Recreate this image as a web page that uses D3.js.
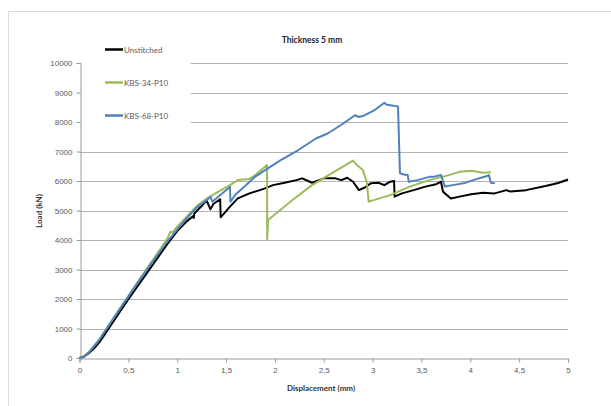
<!DOCTYPE html>
<html><head><meta charset="utf-8">
<script src="https://cdn.jsdelivr.net/npm/d3@7"></script>
<style>body{margin:0;background:#fff;}svg{display:block;font-family:Lato,"Open Sans",sans-serif;}</style>
</head><body><svg id="c" width="611" height="406"></svg>
<script>
const seriesNames = ["Unstitched", "KBS-34-P10", "KBS-68-P10"];
const seriesColors = ["#000000", "#9BBB59", "#4F81BD"];
const xTicks = [0, 0.5, 1, 1.5, 2, 2.5, 3, 3.5, 4, 4.5, 5];
const yTicks = [0,1000,2000,3000,4000,5000,6000,7000,8000,9000,10000];

const unstitched = [[0,0],[0.05,50],[0.1,180],[0.15,330],[0.2,520],[0.25,760],[0.3,1010],[0.4,1500],[0.5,1990],[0.6,2460],[0.7,2930],[0.8,3400],[0.9,3870],[1.0,4300],[1.1,4640],[1.16,4800],[1.17,4750],[1.175,4900],[1.25,5150],[1.3,5355],[1.34,5040],[1.37,5220],[1.44,5380],[1.445,4770],[1.54,5130],[1.62,5410],[1.74,5580],[1.9,5750],[1.98,5860],[2.1,5940],[2.22,6030],[2.28,6090],[2.34,6000],[2.38,5940],[2.5,6090],[2.62,6090],[2.68,6030],[2.74,6110],[2.8,5975],[2.86,5690],[2.92,5780],[2.98,5920],[3.06,5940],[3.12,5860],[3.18,5975],[3.22,6000],[3.225,5470],[3.3,5580],[3.42,5690],[3.54,5810],[3.64,5880],[3.7,5975],[3.72,5640],[3.8,5410],[3.89,5470],[4.01,5550],[4.13,5600],[4.25,5580],[4.37,5690],[4.41,5640],[4.57,5690],[4.77,5830],[4.9,5930],[5.0,6050]];
const kbs34 = [[0,0],[0.05,70],[0.1,220],[0.2,620],[0.3,1120],[0.4,1620],[0.5,2100],[0.6,2600],[0.7,3080],[0.8,3560],[0.9,4050],[0.93,4280],[0.95,4250],[1.0,4450],[1.1,4800],[1.2,5150],[1.3,5400],[1.4,5600],[1.54,5860],[1.62,6030],[1.74,6070],[1.8,6200],[1.92,6540],[1.921,4030],[1.93,4680],[2.18,5355],[2.38,5860],[2.58,6260],[2.8,6690],[2.84,6540],[2.9,6370],[2.94,5975],[2.96,5300],[3.18,5520],[3.38,5810],[3.58,6030],[3.78,6200],[3.89,6310],[4.01,6350],[4.13,6280],[4.21,6300]];
const kbs68 = [[0,0],[0.05,60],[0.1,200],[0.2,600],[0.3,1100],[0.4,1600],[0.5,2080],[0.6,2570],[0.7,3040],[0.8,3500],[0.9,3950],[1.0,4350],[1.1,4750],[1.2,5100],[1.3,5350],[1.34,5460],[1.36,5300],[1.45,5550],[1.54,5800],[1.545,5300],[1.6,5550],[1.7,5850],[1.8,6150],[1.9,6370],[2.06,6710],[2.24,7050],[2.42,7440],[2.54,7610],[2.7,7950],[2.82,8230],[2.86,8170],[2.9,8200],[3.02,8400],[3.12,8650],[3.14,8590],[3.18,8570],[3.26,8530],[3.28,6260],[3.32,6220],[3.36,6200],[3.37,5975],[3.46,6030],[3.58,6140],[3.62,6140],[3.7,6200],[3.74,5810],[3.82,5860],[3.93,5920],[4.03,6030],[4.17,6170],[4.19,6200],[4.21,5940],[4.25,5920]];
const allSeries = [unstitched, kbs34, kbs68];

const svg = d3.select("#c");
const x = d3.scaleLinear().domain([0,5]).range([79.5,568]);
const y = d3.scaleLinear().domain([0,10000]).range([358,63]);

svg.append("rect").attr("x",8.5).attr("y",11.5).attr("width",620).attr("height",420).attr("fill","none").attr("stroke","#d9d9d9");

svg.append("g").selectAll("line").data(yTicks.filter(d=>d>0)).join("line")
  .attr("x1",x(0)).attr("x2",x(5)).attr("y1",d=>Math.round(y(d))+0.5).attr("y2",d=>Math.round(y(d))+0.5)
  .attr("stroke","#b3b3b3").attr("stroke-width",1);

svg.append("rect").attr("x",x(0)+1).attr("y",40).attr("width",110).attr("height",88).attr("fill","#fff");

const fmtX = d => String(d).replace(".", ",");
const xAxis = svg.append("g").attr("transform",`translate(0,${Math.round(y(0))+0.5})`)
  .call(d3.axisBottom(x).tickValues(xTicks).tickFormat(fmtX).tickSize(4).tickPadding(5));
const yAxis = svg.append("g").attr("transform",`translate(${Math.round(x(0))+0.5},0)`)
  .call(d3.axisLeft(y).tickValues(yTicks).tickFormat(d3.format("d")).tickSize(4).tickPadding(4));
[xAxis,yAxis].forEach(a=>{
  a.selectAll("path,line").attr("stroke","#999");
  a.selectAll("text").attr("fill","#595959").attr("font-size","8px");
});

const line = d3.line().x(d=>x(d[0])).y(d=>y(d[1]));
allSeries.forEach((s,i)=>{
  svg.append("path").datum(s).attr("d",line).attr("fill","none")
    .attr("stroke",seriesColors[i]).attr("stroke-width",2).attr("stroke-linejoin","round");
});

svg.append("text").attr("x",312).attr("y",43).attr("text-anchor","middle").attr("font-size","8.5px").attr("font-weight","bold").attr("fill","#222").text("Thickness 5 mm");
svg.append("text").attr("x",321).attr("y",391).attr("text-anchor","middle").attr("font-size","8px").attr("font-weight","bold").attr("fill","#333").text("Displacement (mm)");
svg.append("text").attr("transform","translate(42,211) rotate(-90)").attr("text-anchor","middle").attr("font-size","8px").attr("font-weight","bold").attr("fill","#333").text("Load (kN)");

const legY = [49.5, 82.5, 115.5];
seriesNames.forEach((n,i)=>{
  svg.append("line").attr("x1",105).attr("x2",123).attr("y1",legY[i]).attr("y2",legY[i]).attr("stroke",seriesColors[i]).attr("stroke-width",2.5);
  svg.append("text").attr("x",124).attr("y",legY[i]+3).attr("font-size","8px").attr("fill","#595959").text(n);
});
</script></body></html>
